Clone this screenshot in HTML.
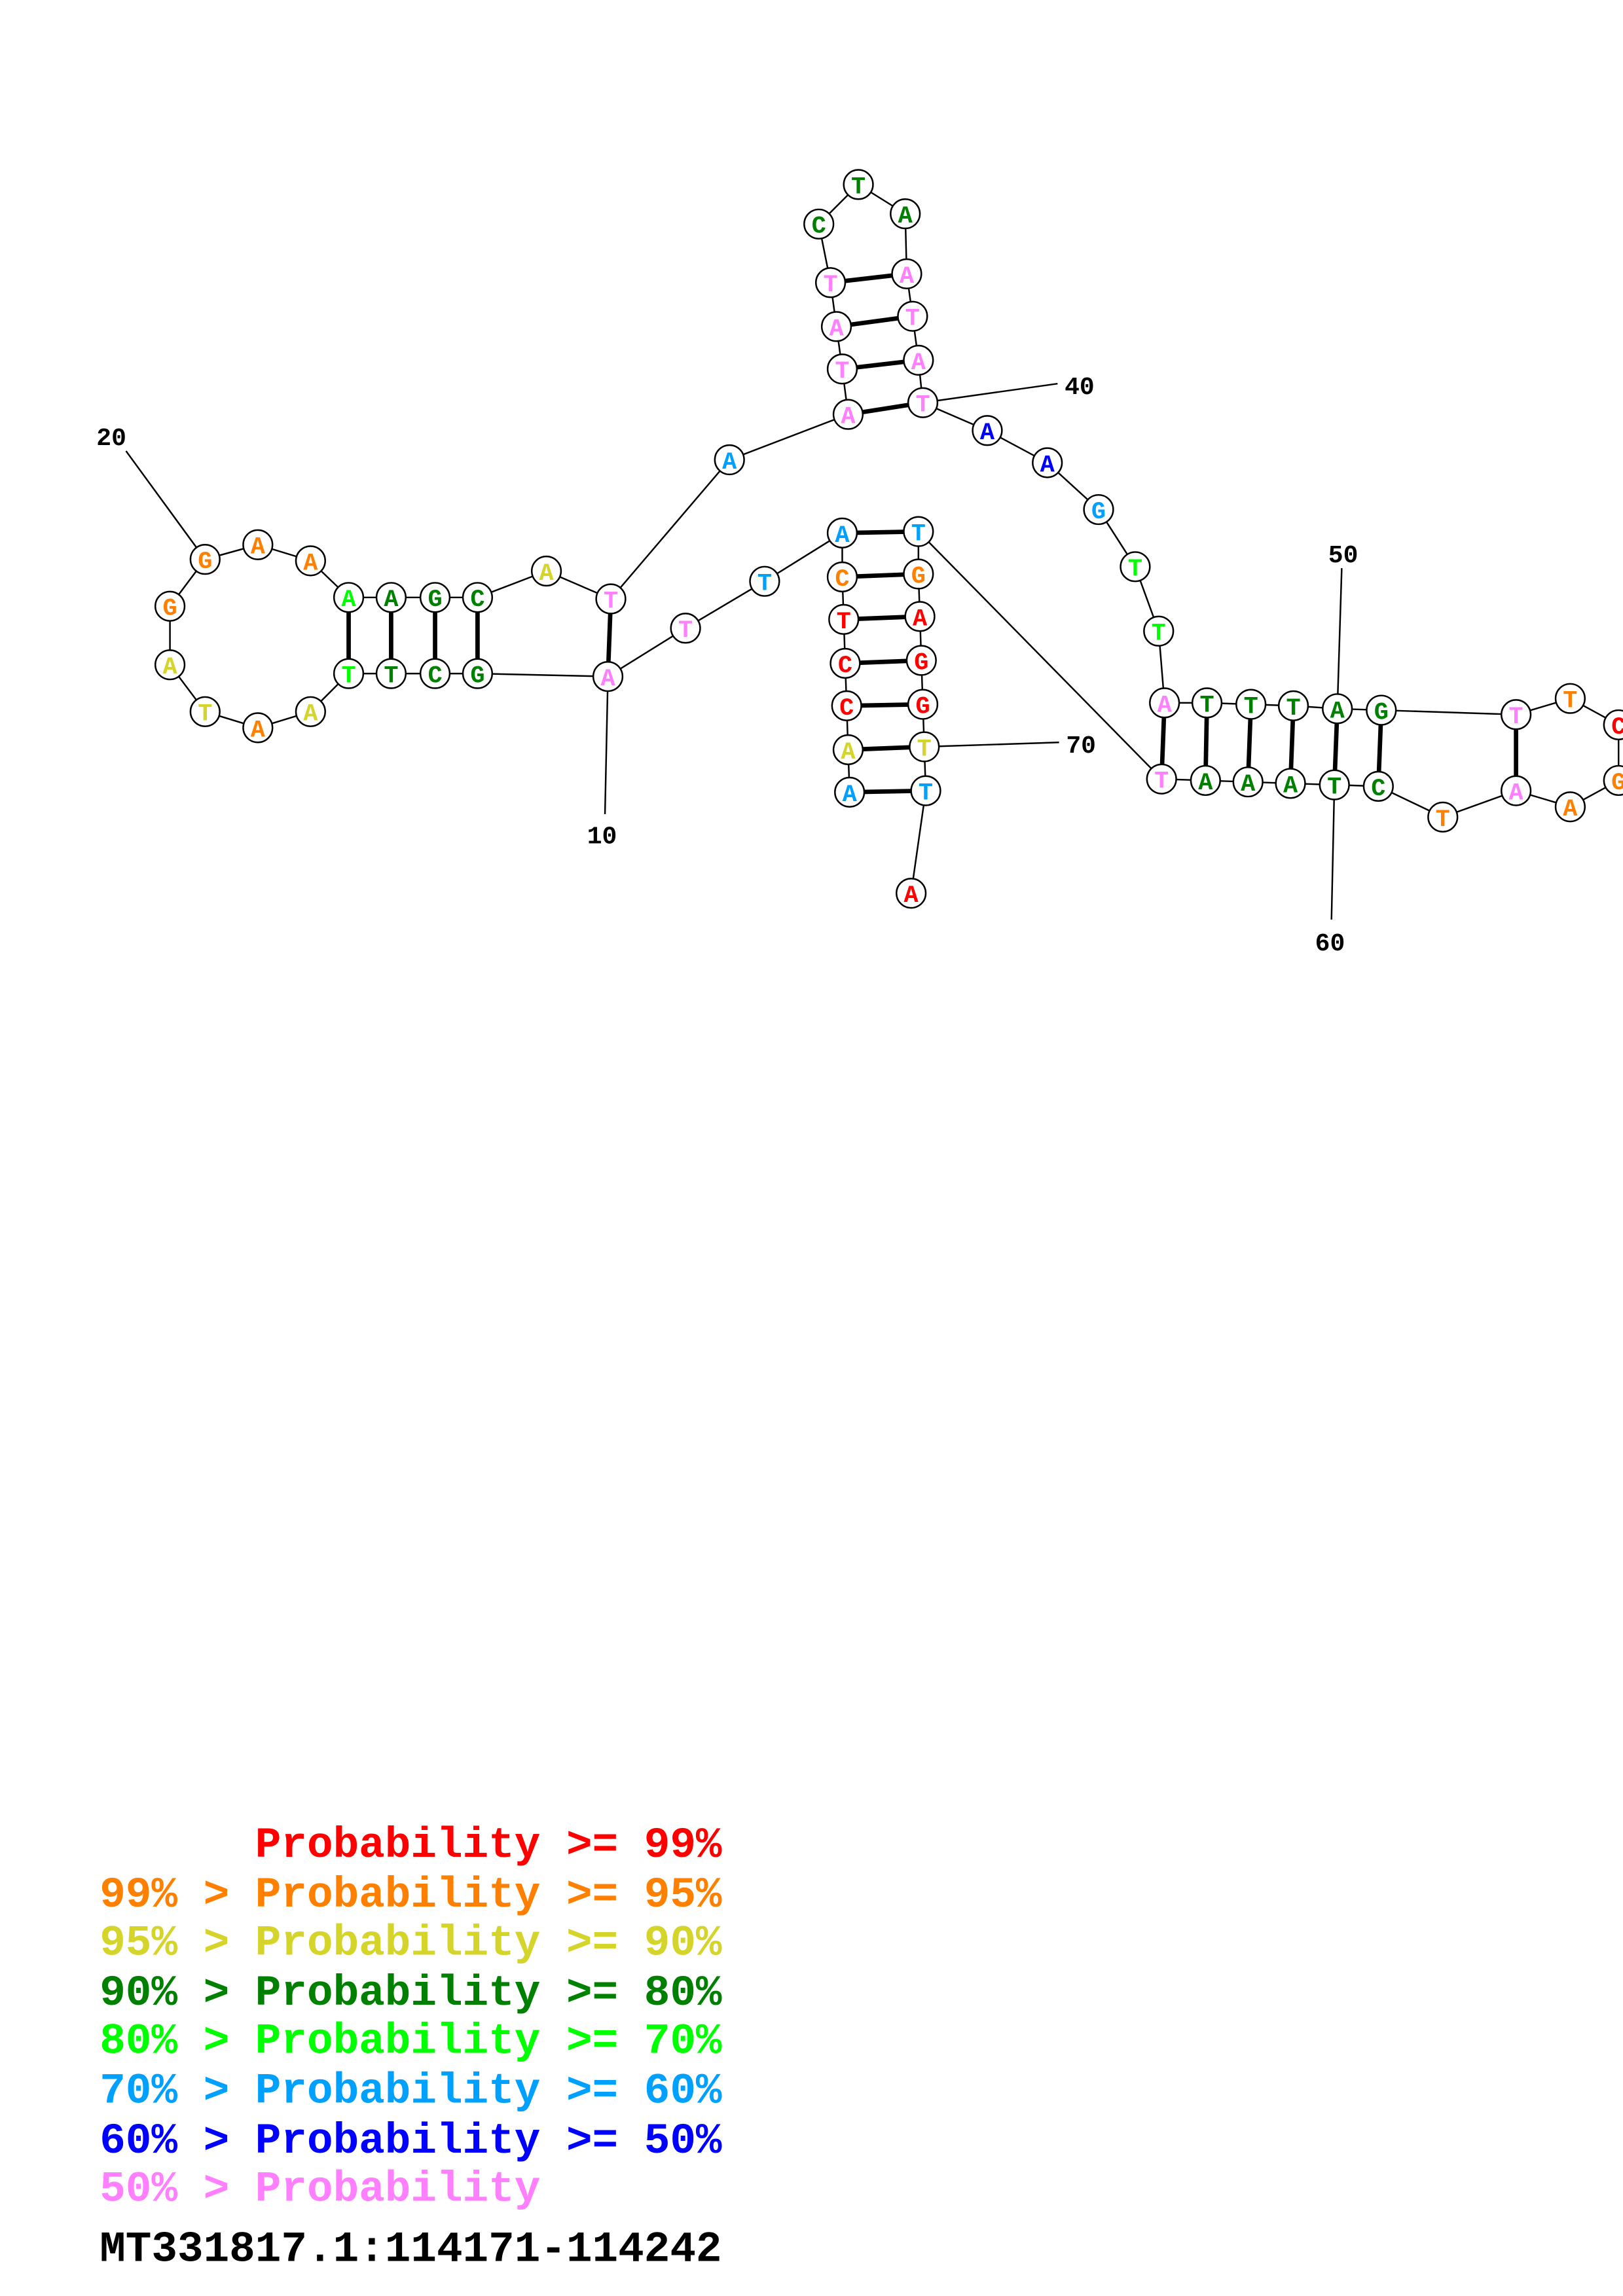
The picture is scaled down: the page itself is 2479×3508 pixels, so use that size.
<!DOCTYPE html>
<html><head><meta charset="utf-8"><style>
html,body{margin:0;padding:0;background:#fff;width:2479px;height:3508px;overflow:hidden}
svg{display:block}
.n circle{fill:#fff;stroke:#000;stroke-width:1.1}
.n text{font-family:"Liberation Mono",monospace;font-weight:bold;font-size:16.5px;text-anchor:middle}
.lbl{font-family:"Liberation Mono",monospace;font-weight:bold;font-size:17px;text-anchor:middle}
.leg{font-family:"Liberation Mono",monospace;font-weight:bold;font-size:29.5px;white-space:pre}
</style></head><body>
<svg width="2479" height="3508" viewBox="0 0 1108 1568" xmlns="http://www.w3.org/2000/svg">
<g stroke="#000" stroke-width="1.1" fill="none">
<polyline points="415,462 326,460 297,460 267,460 238,460 212,486 176,497 140,486 116,454 116,414 140,382 176,372 212,383 238,408 267,408 297,408 326,408 373,390 417,409 498,314 579,283 575,252 571,223 567,193 559,153 586,126 618,146 619,187 623,216 627,246 630,275 674,294 715,316 750,348 775,387 791,431 795,480 824,480 854,481 883,482 913,484 943,485 1035,488 1072,477 1105,495 1105,533 1072,551 1035,540 985,558 941,537 911,536 881,535 852,534 823,533 793,532 627,363 627,392 628,421 629,451 630,481 631,510 632,540 622,610"/>
<polyline points="415,462 468,429 522,397 575,364 575,394 576,423 577,453 578,482 579,512 580,541"/>
<line x1="86" y1="308" x2="140" y2="382"/>
<line x1="413" y1="556" x2="415" y2="462"/>
<line x1="630" y1="275" x2="722" y2="262"/>
<line x1="916" y1="388" x2="913" y2="484"/>
<line x1="909" y1="628" x2="911" y2="536"/>
<line x1="631" y1="510" x2="723" y2="507"/>
</g>
<g stroke="#000" stroke-width="3">
<line x1="238" y1="408" x2="238" y2="460"/><line x1="267" y1="408" x2="267" y2="460"/>
<line x1="297" y1="408" x2="297" y2="460"/><line x1="326" y1="408" x2="326" y2="460"/>
<line x1="417" y1="409" x2="415" y2="462"/>
<line x1="567" y1="193" x2="619" y2="187"/><line x1="571" y1="223" x2="623" y2="216"/>
<line x1="575" y1="252" x2="627" y2="246"/><line x1="579" y1="283" x2="630" y2="275"/>
<line x1="575" y1="364" x2="627" y2="363"/><line x1="575" y1="394" x2="627" y2="392"/>
<line x1="576" y1="423" x2="628" y2="421"/><line x1="577" y1="453" x2="629" y2="451"/>
<line x1="578" y1="482" x2="630" y2="481"/><line x1="579" y1="512" x2="631" y2="510"/>
<line x1="580" y1="541" x2="632" y2="540"/>
<line x1="795" y1="480" x2="793" y2="532"/><line x1="824" y1="480" x2="823" y2="533"/>
<line x1="854" y1="481" x2="852" y2="534"/><line x1="883" y1="482" x2="881" y2="535"/>
<line x1="913" y1="484" x2="911" y2="536"/><line x1="943" y1="485" x2="941" y2="537"/>
<line x1="1035" y1="488" x2="1035" y2="540"/>
</g>
<g class="n">
<g><circle cx="140" cy="382" r="10"/><text x="140" y="388" fill="#ff8000">G</text></g>
<g><circle cx="176" cy="372" r="10"/><text x="176" y="378" fill="#ff8000">A</text></g>
<g><circle cx="212" cy="383" r="10"/><text x="212" y="389" fill="#ff8000">A</text></g>
<g><circle cx="116" cy="414" r="10"/><text x="116" y="420" fill="#ff8000">G</text></g>
<g><circle cx="116" cy="454" r="10"/><text x="116" y="460" fill="#d4d42a">A</text></g>
<g><circle cx="140" cy="486" r="10"/><text x="140" y="492" fill="#d4d42a">T</text></g>
<g><circle cx="176" cy="497" r="10"/><text x="176" y="503" fill="#ff8000">A</text></g>
<g><circle cx="212" cy="486" r="10"/><text x="212" y="492" fill="#d4d42a">A</text></g>
<g><circle cx="238" cy="408" r="10"/><text x="238" y="414" fill="#00ff00">A</text></g>
<g><circle cx="267" cy="408" r="10"/><text x="267" y="414" fill="#008000">A</text></g>
<g><circle cx="297" cy="408" r="10"/><text x="297" y="414" fill="#008000">G</text></g>
<g><circle cx="326" cy="408" r="10"/><text x="326" y="414" fill="#008000">C</text></g>
<g><circle cx="238" cy="460" r="10"/><text x="238" y="466" fill="#00ff00">T</text></g>
<g><circle cx="267" cy="460" r="10"/><text x="267" y="466" fill="#008000">T</text></g>
<g><circle cx="297" cy="460" r="10"/><text x="297" y="466" fill="#008000">C</text></g>
<g><circle cx="326" cy="460" r="10"/><text x="326" y="466" fill="#008000">G</text></g>
<g><circle cx="373" cy="390" r="10"/><text x="373" y="396" fill="#d4d42a">A</text></g>
<g><circle cx="417" cy="409" r="10"/><text x="417" y="415" fill="#ff80ff">T</text></g>
<g><circle cx="415" cy="462" r="10"/><text x="415" y="468" fill="#ff80ff">A</text></g>
<g><circle cx="498" cy="314" r="10"/><text x="498" y="320" fill="#00a0ff">A</text></g>
<g><circle cx="579" cy="283" r="10"/><text x="579" y="289" fill="#ff80ff">A</text></g>
<g><circle cx="630" cy="275" r="10"/><text x="630" y="281" fill="#ff80ff">T</text></g>
<g><circle cx="575" cy="252" r="10"/><text x="575" y="258" fill="#ff80ff">T</text></g>
<g><circle cx="571" cy="223" r="10"/><text x="571" y="229" fill="#ff80ff">A</text></g>
<g><circle cx="567" cy="193" r="10"/><text x="567" y="199" fill="#ff80ff">T</text></g>
<g><circle cx="559" cy="153" r="10"/><text x="559" y="159" fill="#008000">C</text></g>
<g><circle cx="586" cy="126" r="10"/><text x="586" y="132" fill="#008000">T</text></g>
<g><circle cx="618" cy="146" r="10"/><text x="618" y="152" fill="#008000">A</text></g>
<g><circle cx="619" cy="187" r="10"/><text x="619" y="193" fill="#ff80ff">A</text></g>
<g><circle cx="623" cy="216" r="10"/><text x="623" y="222" fill="#ff80ff">T</text></g>
<g><circle cx="627" cy="246" r="10"/><text x="627" y="252" fill="#ff80ff">A</text></g>
<g><circle cx="468" cy="429" r="10"/><text x="468" y="435" fill="#ff80ff">T</text></g>
<g><circle cx="522" cy="397" r="10"/><text x="522" y="403" fill="#00a0ff">T</text></g>
<g><circle cx="575" cy="364" r="10"/><text x="575" y="370" fill="#00a0ff">A</text></g>
<g><circle cx="575" cy="394" r="10"/><text x="575" y="400" fill="#ff8000">C</text></g>
<g><circle cx="576" cy="423" r="10"/><text x="576" y="429" fill="#ff0000">T</text></g>
<g><circle cx="577" cy="453" r="10"/><text x="577" y="459" fill="#ff0000">C</text></g>
<g><circle cx="578" cy="482" r="10"/><text x="578" y="488" fill="#ff0000">C</text></g>
<g><circle cx="579" cy="512" r="10"/><text x="579" y="518" fill="#d4d42a">A</text></g>
<g><circle cx="580" cy="541" r="10"/><text x="580" y="547" fill="#00a0ff">A</text></g>
<g><circle cx="627" cy="363" r="10"/><text x="627" y="369" fill="#00a0ff">T</text></g>
<g><circle cx="627" cy="392" r="10"/><text x="627" y="398" fill="#ff8000">G</text></g>
<g><circle cx="628" cy="421" r="10"/><text x="628" y="427" fill="#ff0000">A</text></g>
<g><circle cx="629" cy="451" r="10"/><text x="629" y="457" fill="#ff0000">G</text></g>
<g><circle cx="630" cy="481" r="10"/><text x="630" y="487" fill="#ff0000">G</text></g>
<g><circle cx="631" cy="510" r="10"/><text x="631" y="516" fill="#d4d42a">T</text></g>
<g><circle cx="632" cy="540" r="10"/><text x="632" y="546" fill="#00a0ff">T</text></g>
<g><circle cx="622" cy="610" r="10"/><text x="622" y="616" fill="#ff0000">A</text></g>
<g><circle cx="674" cy="294" r="10"/><text x="674" y="300" fill="#0000ff">A</text></g>
<g><circle cx="715" cy="316" r="10"/><text x="715" y="322" fill="#0000ff">A</text></g>
<g><circle cx="750" cy="348" r="10"/><text x="750" y="354" fill="#00a0ff">G</text></g>
<g><circle cx="775" cy="387" r="10"/><text x="775" y="393" fill="#00ff00">T</text></g>
<g><circle cx="791" cy="431" r="10"/><text x="791" y="437" fill="#00ff00">T</text></g>
<g><circle cx="795" cy="480" r="10"/><text x="795" y="486" fill="#ff80ff">A</text></g>
<g><circle cx="793" cy="532" r="10"/><text x="793" y="538" fill="#ff80ff">T</text></g>
<g><circle cx="824" cy="480" r="10"/><text x="824" y="486" fill="#008000">T</text></g>
<g><circle cx="854" cy="481" r="10"/><text x="854" y="487" fill="#008000">T</text></g>
<g><circle cx="883" cy="482" r="10"/><text x="883" y="488" fill="#008000">T</text></g>
<g><circle cx="913" cy="484" r="10"/><text x="913" y="490" fill="#008000">A</text></g>
<g><circle cx="943" cy="485" r="10"/><text x="943" y="491" fill="#008000">G</text></g>
<g><circle cx="823" cy="533" r="10"/><text x="823" y="539" fill="#008000">A</text></g>
<g><circle cx="852" cy="534" r="10"/><text x="852" y="540" fill="#008000">A</text></g>
<g><circle cx="881" cy="535" r="10"/><text x="881" y="541" fill="#008000">A</text></g>
<g><circle cx="911" cy="536" r="10"/><text x="911" y="542" fill="#008000">T</text></g>
<g><circle cx="941" cy="537" r="10"/><text x="941" y="543" fill="#008000">C</text></g>
<g><circle cx="985" cy="558" r="10"/><text x="985" y="564" fill="#ff8000">T</text></g>
<g><circle cx="1035" cy="540" r="10"/><text x="1035" y="546" fill="#ff80ff">A</text></g>
<g><circle cx="1035" cy="488" r="10"/><text x="1035" y="494" fill="#ff80ff">T</text></g>
<g><circle cx="1072" cy="477" r="10"/><text x="1072" y="483" fill="#ff8000">T</text></g>
<g><circle cx="1105" cy="495" r="10"/><text x="1105" y="501" fill="#ff0000">C</text></g>
<g><circle cx="1105" cy="533" r="10"/><text x="1105" y="539" fill="#ff8000">G</text></g>
<g><circle cx="1072" cy="551" r="10"/><text x="1072" y="557" fill="#ff8000">A</text></g>
</g>
<text class="lbl" x="76" y="304">20</text>
<text class="lbl" x="411" y="576">10</text>
<text class="lbl" x="737" y="269">40</text>
<text class="lbl" x="917" y="384">50</text>
<text class="lbl" x="908" y="649">60</text>
<text class="lbl" x="738" y="514">70</text>
<g class="leg">
<text x="68" y="1268" fill="#ff0000" xml:space="preserve">      Probability &gt;= 99%</text>
<text x="68" y="1302" fill="#ff8000" xml:space="preserve">99% &gt; Probability &gt;= 95%</text>
<text x="68" y="1335" fill="#d4d42a" xml:space="preserve">95% &gt; Probability &gt;= 90%</text>
<text x="68" y="1369" fill="#008000" xml:space="preserve">90% &gt; Probability &gt;= 80%</text>
<text x="68" y="1402" fill="#00ff00" xml:space="preserve">80% &gt; Probability &gt;= 70%</text>
<text x="68" y="1436" fill="#00a0ff" xml:space="preserve">70% &gt; Probability &gt;= 60%</text>
<text x="68" y="1470" fill="#0000ff" xml:space="preserve">60% &gt; Probability &gt;= 50%</text>
<text x="68" y="1503" fill="#ff80ff" xml:space="preserve">50% &gt; Probability</text>
<text x="68" y="1544" fill="#000">MT331817.1:114171-114242</text>
</g>
</svg>
</body></html>
